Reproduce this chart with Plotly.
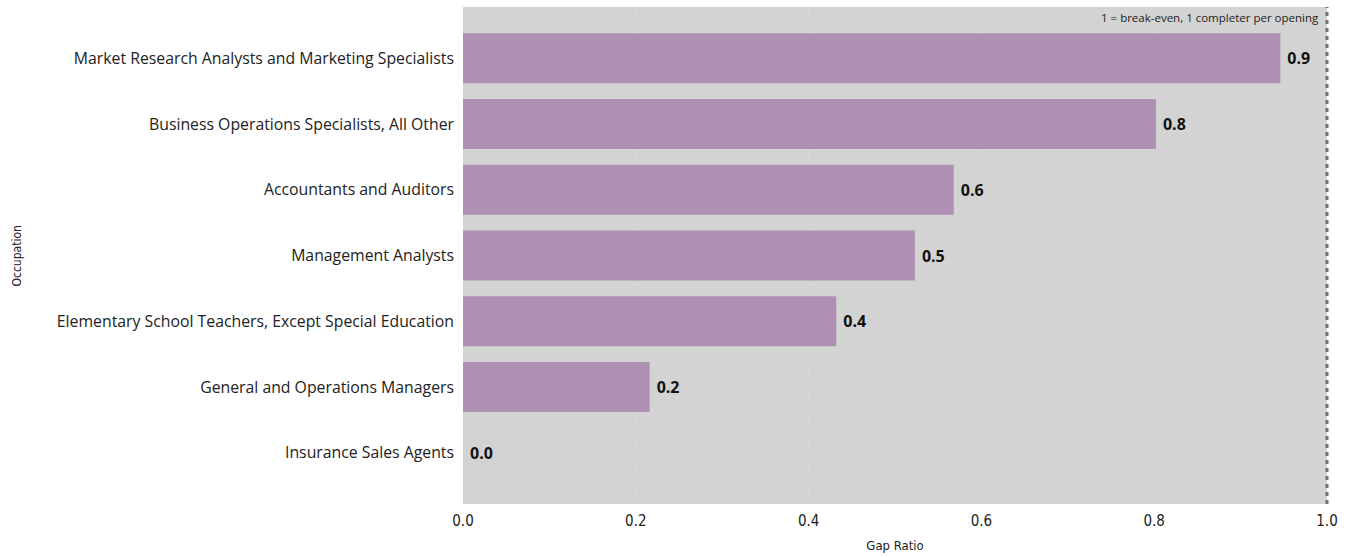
import plotly.graph_objects as go

occupations = [
    "Market Research Analysts and Marketing Specialists",
    "Business Operations Specialists, All Other",
    "Accountants and Auditors",
    "Management Analysts",
    "Elementary School Teachers, Except Special Education",
    "General and Operations Managers",
    "Insurance Sales Agents",
]
gap_ratio = [0.946, 0.802, 0.568, 0.523, 0.432, 0.216, 0.0]
x_ticks = [0.0, 0.2, 0.4, 0.6, 0.8, 1.0]
break_even = 1.0

W, H = 1356, 557
ML, MR, MT, MB = 463, 29, 7, 51
plot_w = W - ML - MR

label_font = "Open Sans, Noto Sans, sans-serif"
narrow_font = "Liberation Sans Narrow, DejaVu Sans Condensed, sans-serif"

fig = go.Figure()
fig.add_trace(go.Bar(
    x=gap_ratio,
    y=occupations,
    orientation="h",
    width=0.76,
    marker=dict(color="#ae90b2", line=dict(width=0)),
    text=gap_ratio,
    texttemplate="\u2005<b>%{x:.1f}</b>",
    textposition="outside",
    textfont=dict(family=label_font, size=16, color="#111111"),
    cliponaxis=False,
    hoverinfo="skip",
))

# break-even reference line (paper x == data x since the axis spans 0..1)
fig.add_shape(type="line", xref="paper", yref="paper", x0=break_even, x1=break_even, y0=0, y1=1,
              line=dict(color="#707070", width=3, dash="4px,4px"))
fig.add_annotation(xref="x", yref="paper", x=0.993, y=0.997, xanchor="right", yanchor="top",
                   text="1 = break-even, 1 completer per opening", showarrow=False,
                   font=dict(family=label_font, size=11.5, color="#222222"))
fig.add_annotation(xref="paper", yref="paper", x=-(ML - 16) / plot_w, y=0.5,
                   xanchor="center", yanchor="middle", textangle=-90,
                   text="Occupation", showarrow=False,
                   font=dict(family=narrow_font, size=12, color="#222222"))

fig.update_layout(
    width=W, height=H,
    margin=dict(l=ML, r=MR, t=MT, b=MB),
    paper_bgcolor="white",
    plot_bgcolor="#d3d3d3",
    showlegend=False,
    bargap=0.24,
)
fig.update_xaxes(
    range=[0, 1.0],
    tickvals=x_ticks,
    ticktext=[f"{v:.1f}" for v in x_ticks],
    tickfont=dict(family=narrow_font, size=15, color="#222222"),
    showgrid=True, gridcolor="#dcdcdc", griddash="dot", gridwidth=1,
    zeroline=False, showline=False, ticks="", ticklabelstandoff=6,
    title=dict(text="Gap Ratio", standoff=11,
               font=dict(family=narrow_font, size=13, color="#222222")),
)
fig.update_yaxes(
    categoryorder="array", categoryarray=occupations,
    autorange=False, range=[6.78, -0.78],
    tickfont=dict(family=label_font, size=15.8, color="#222222"),
    showgrid=False, zeroline=False, ticks="", ticklabelstandoff=8,
)

fig.write_html("out.html")
